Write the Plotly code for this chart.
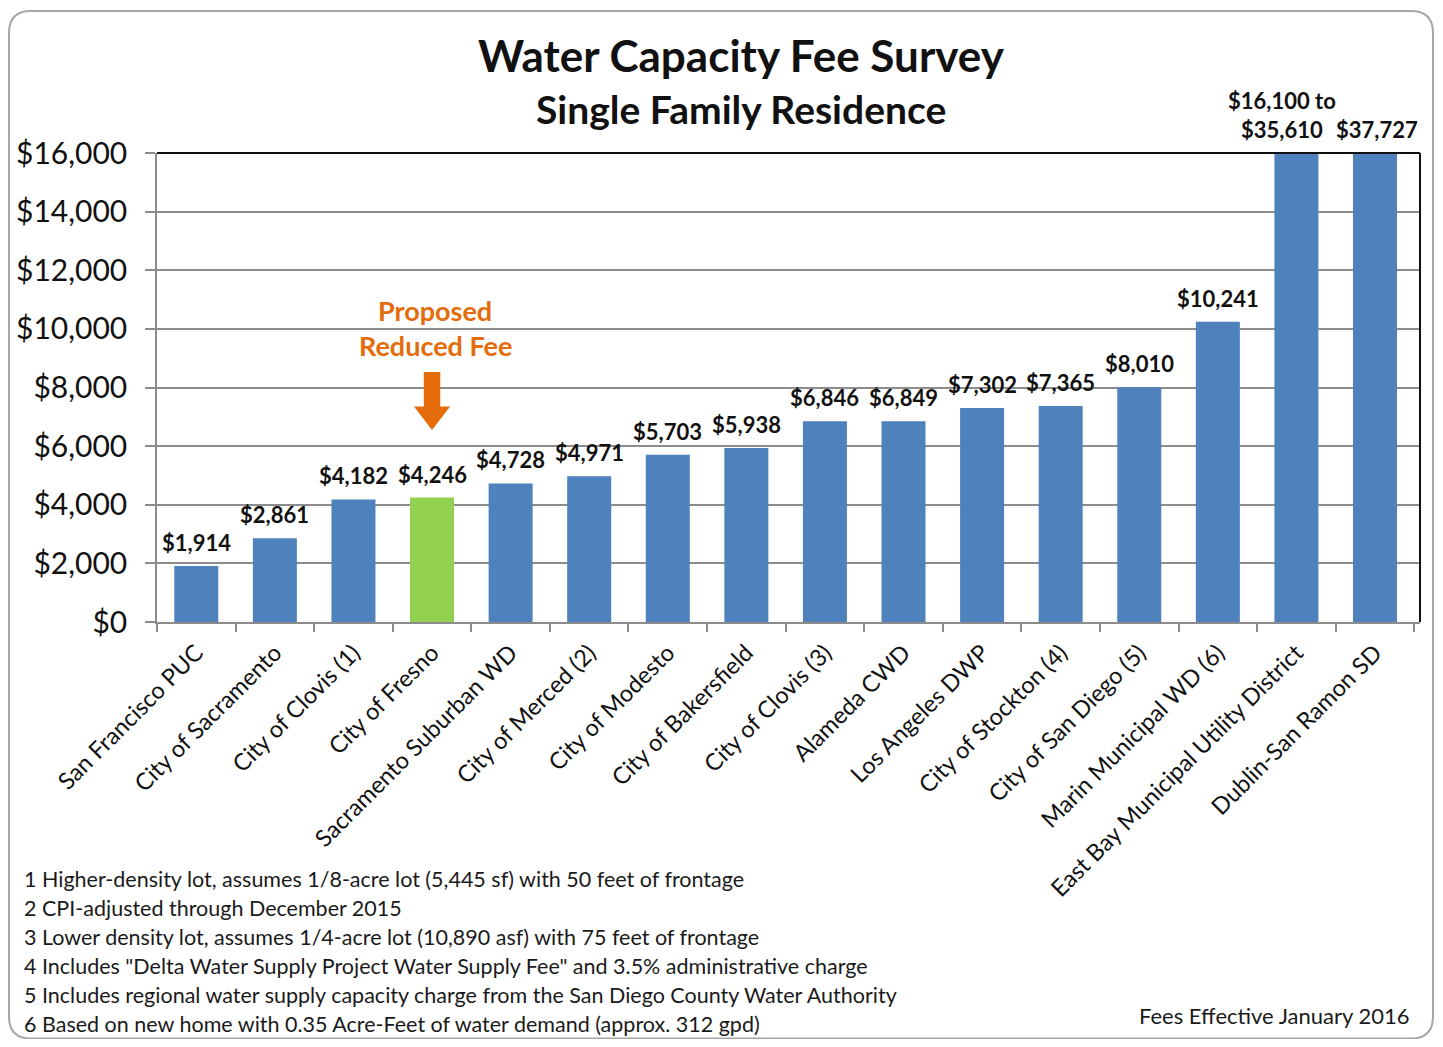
import plotly.graph_objects as go

# ---------------- data ----------------
categories = [
    "San Francisco PUC", "City of Sacramento", "City of Clovis (1)", "City of Fresno",
    "Sacramento Suburban WD", "City of Merced (2)", "City of Modesto", "City of Bakersfield",
    "City of Clovis (3)", "Alameda CWD", "Los Angeles DWP", "City of Stockton (4)",
    "City of San Diego (5)", "Marin Municipal WD (6)", "East Bay Municipal Utility District",
    "Dublin-San Ramon SD",
]
fees = [1914, 2861, 4182, 4246, 4728, 4971, 5703, 5938, 6846, 6849, 7302, 7365,
        8010, 10241, 35610, 37727]
fee_labels = ["$1,914", "$2,861", "$4,182", "$4,246", "$4,728", "$4,971", "$5,703",
              "$5,938", "$6,846", "$6,849", "$7,302", "$7,365", "$8,010", "$10,241",
              "$16,100 to<br>$35,610", "$37,727"]
highlight = "City of Fresno"
y_max = 16000
y_ticks = [0, 2000, 4000, 6000, 8000, 10000, 12000, 14000, 16000]
y_tick_text = ["$0", "$2,000", "$4,000", "$6,000", "$8,000", "$10,000", "$12,000",
               "$14,000", "$16,000"]
footnotes = [
    "1 Higher-density lot, assumes 1/8-acre lot (5,445 sf) with 50 feet of frontage",
    "2 CPI-adjusted through December 2015",
    "3 Lower density lot, assumes 1/4-acre lot (10,890 asf) with 75 feet of frontage",
    "4 Includes \"Delta Water Supply Project Water Supply Fee\" and 3.5% administrative charge",
    "5 Includes regional water supply capacity charge from the San Diego County Water Authority",
    "6 Based on new home with 0.35 Acre-Feet of water demand (approx. 312 gpd)",
]

# label nudges (style only) so the two clipped-bar labels do not collide
label_xshift = {"East Bay Municipal Utility District": -14, "Dublin-San Ramon SD": 2}

# ---------------- layout geometry ----------------
# page body has an 8px margin, so the figure is shifted by 8px
OFF = 8
W, H = 1443 - 2 * OFF, 1047 - 2 * OFF
ML, MT = 157 - OFF, 153 - OFF
MR = W - (1420 - OFF)
MB = H - (622 - OFF)
PW, PH = W - ML - MR, H - MT - MB

def px_x(x):  # reference-pixel x -> paper
    return (x - OFF - ML) / PW

def px_y(y):  # reference-pixel y -> paper
    return (H - MB - (y - OFF)) / PH

FONT = "Lato"
BLUE = "#4F81BD"
GREEN = "#92D050"
ORANGE = "#E46C0A"
TXT = "#111111"

colors = [GREEN if c == highlight else BLUE for c in categories]

fig = go.Figure()
fig.add_trace(go.Bar(
    x=categories, y=fees, marker=dict(color=colors, line=dict(width=0)),
    hoverinfo="x+y",
))

annotations = []
# data labels
for c, v, lab in zip(categories, fees, fee_labels):
    annotations.append(dict(
        x=c, y=min(v, y_max), xref="x", yref="y", text="<b>%s</b>" % lab,
        showarrow=False, xanchor="center", yanchor="bottom", yshift=8,
        xshift=label_xshift.get(c, 0),
        font=dict(family=FONT, size=22, color=TXT), align="center",
    ))

# titles
annotations.append(dict(x=px_x(741), y=px_y(55), xref="paper", yref="paper",
                        text="<b>Water Capacity Fee Survey</b>", showarrow=False,
                        xanchor="center", yanchor="middle",
                        font=dict(family=FONT, size=44, color=TXT)))
annotations.append(dict(x=px_x(741), y=px_y(109), xref="paper", yref="paper",
                        text="<b>Single Family Residence</b>", showarrow=False,
                        xanchor="center", yanchor="middle",
                        font=dict(family=FONT, size=39, color=TXT)))

# proposed fee note
annotations.append(dict(x=px_x(435), y=px_y(310), xref="paper", yref="paper",
                        text="<b>Proposed</b>", showarrow=False,
                        xanchor="center", yanchor="middle",
                        font=dict(family=FONT, size=27, color=ORANGE)))
annotations.append(dict(x=px_x(435), y=px_y(345), xref="paper", yref="paper",
                        text="<b>Reduced Fee</b>", showarrow=False,
                        xanchor="center", yanchor="middle",
                        font=dict(family=FONT, size=27, color=ORANGE)))

# footnotes
for i, t in enumerate(footnotes):
    annotations.append(dict(x=px_x(22), y=px_y(879 + i * 29), xref="paper", yref="paper",
                            text=t, showarrow=False, xanchor="left", yanchor="middle",
                            font=dict(family=FONT, size=21.5, color="#1a1a1a")))
annotations.append(dict(x=px_x(1411), y=px_y(1015), xref="paper", yref="paper",
                        text="Fees Effective January 2016", showarrow=False,
                        xanchor="right", yanchor="middle",
                        font=dict(family=FONT, size=22, color="#1a1a1a")))

# arrow (category index of highlighted bar)
hi = categories.index(highlight)
shapes = []
sw, hw = 0.105, 0.23
shaft_top, shaft_bot, tip = 8530, 7350, 6550
shapes.append(dict(
    type="path", xref="x", yref="y",
    path=("M %f,%f L %f,%f L %f,%f L %f,%f L %f,%f L %f,%f L %f,%f Z" % (
        hi - sw, shaft_top, hi + sw, shaft_top, hi + sw, shaft_bot, hi + hw, shaft_bot,
        hi, tip, hi - hw, shaft_bot, hi - sw, shaft_bot)),
    fillcolor=ORANGE, line=dict(width=0),
))

# black top & right plot border
shapes.append(dict(type="line", xref="paper", yref="paper", x0=0, x1=1, y0=1, y1=1,
                   line=dict(color=TXT, width=2)))
shapes.append(dict(type="line", xref="paper", yref="paper", x0=1, x1=1, y0=0, y1=1,
                   line=dict(color=TXT, width=2)))

# rounded outer frame
x0, x1 = px_x(OFF + 1), px_x(1433)
y0, y1 = px_y(1038.5), px_y(11)
rx, ry = 22 / PW, 22 / PH
frame = ("M %f,%f L %f,%f Q %f,%f %f,%f L %f,%f Q %f,%f %f,%f L %f,%f Q %f,%f %f,%f "
         "L %f,%f Q %f,%f %f,%f Z") % (
    x0 + rx, y1, x1 - rx, y1, x1, y1, x1, y1 - ry,
    x1, y0 + ry, x1, y0, x1 - rx, y0,
    x0 + rx, y0, x0, y0, x0, y0 + ry,
    x0, y1 - ry, x0, y1, x0 + rx, y1)
shapes.append(dict(type="path", xref="paper", yref="paper", path=frame,
                   line=dict(color="#A6A6A6", width=2), fillcolor="rgba(0,0,0,0)",
                   layer="below"))

fig.update_layout(
    width=W, height=H,
    margin=dict(l=ML, r=MR, t=MT, b=MB, autoexpand=False),
    paper_bgcolor="white", plot_bgcolor="white",
    showlegend=False, bargap=0.44,
    annotations=annotations, shapes=shapes,
    font=dict(family=FONT, color=TXT),
)
fig.update_xaxes(
    type="category", tickangle=-45, tickson="boundaries", ticks="outside", ticklen=8,
    tickcolor="#8C8C8C", tickwidth=1.5, showline=True, linecolor="#8C8C8C", linewidth=1.5,
    showgrid=False, tickfont=dict(family=FONT, size=23.5, color=TXT),
    ticklabelstandoff=6,
)
fig.update_yaxes(
    range=[0, y_max], tickvals=y_ticks, ticktext=y_tick_text, ticks="outside", ticklen=10,
    tickcolor="#8C8C8C", tickwidth=1.5, showline=True, linecolor="#8C8C8C", linewidth=1.5,
    showgrid=True, gridcolor="#8C8C8C", gridwidth=1.5, zeroline=False,
    tickfont=dict(family=FONT, size=30, color=TXT), ticklabelstandoff=12,
)

fig.write_html("out.html")
